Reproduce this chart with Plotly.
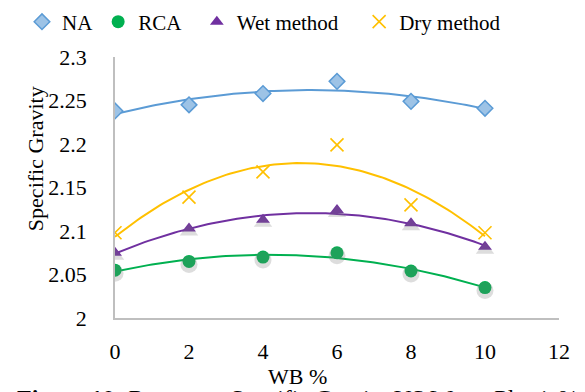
import numpy as np
import plotly.graph_objects as go

wb = [0, 2, 4, 6, 8, 10]
na = [2.238, 2.245, 2.258, 2.272, 2.249, 2.241]
rca = [2.055, 2.065, 2.070, 2.075, 2.054, 2.035]
wet = [2.075, 2.103, 2.113, 2.124, 2.109, 2.082]
dry = [2.098, 2.139, 2.168, 2.199, 2.130, 2.098]

x_ticks = [0, 2, 4, 6, 8, 10, 12]
y_ticks = [2, 2.05, 2.1, 2.15, 2.2, 2.25, 2.3]
y_ticktext = ["2", "2.05", "2.1", "2.15", "2.2", "2.25", "2.3"]

FONT = "Liberation Serif"
Y_RANGE = [2, 2.3]
PLOT_H = 261
SHADOW_PX = 3
shadow_shift = SHADOW_PX * (Y_RANGE[1] - Y_RANGE[0]) / PLOT_H

series = [
    ("NA", na, dict(symbol="diamond", size=12, color="#9DC3E6", line=dict(color="#5B9BD5", width=1.5)), "#5B9BD5", False),
    ("RCA", rca, dict(symbol="circle", size=13, color="#00B050", line=dict(width=0)), "#00B050", True),
    ("Wet method", wet, dict(symbol="triangle-up", size=12, color="#7030A0", line=dict(width=0)), "#7030A0", True),
    ("Dry method", dry, dict(symbol="x-thin", size=13, color="#FFC000", line=dict(color="#FFC000", width=1.6)), "#FFC000", False),
]
legend_names = {"NA": "NA", "RCA": "RCA\u00a0\u00a0", "Wet method": "Wet method\u00a0\u00a0\u00a0", "Dry method": "Dry method"}

fig = go.Figure()
# soft shadows drawn on an overlaid axis whose range is nudged so they sit a few pixels lower
for name, vals, mk, col, shadow in series:
    if shadow:
        fig.add_trace(go.Scatter(x=wb, y=vals, mode="markers", showlegend=False, hoverinfo="skip",
                                 yaxis="y2",
                                 marker=dict(symbol=mk["symbol"], size=mk["size"] + 4,
                                             color="rgba(120,120,120,0.25)", line=dict(width=0))))
xfit = np.linspace(min(wb), max(wb), 101)
for name, vals, mk, col, shadow in series:
    coef = np.polyfit(wb, vals, 2)
    fig.add_trace(go.Scatter(x=xfit, y=np.polyval(coef, xfit), mode="lines",
                             line=dict(color=col, width=2), showlegend=False, hoverinfo="skip"))
for name, vals, mk, col, shadow in series:
    fig.add_trace(go.Scatter(x=wb, y=vals, mode="markers", name=legend_names[name], marker=dict(mk)))

fig.update_layout(
    width=577, height=384,
    margin=dict(l=107, r=26, t=49, b=74, autoexpand=False),
    paper_bgcolor="white", plot_bgcolor="white",
    font=dict(family=FONT, size=22, color="black"),
    showlegend=True,
    legend=dict(orientation="h", x=-0.2095, xanchor="left", y=1.134, yanchor="middle",
                font=dict(family=FONT, size=21, color="black"), itemwidth=30,
                bgcolor="rgba(0,0,0,0)", borderwidth=0),
    xaxis=dict(range=[0, 12], tickmode="array", tickvals=x_ticks, ticktext=[str(v) for v in x_ticks],
               showgrid=False, zeroline=False, showline=True, linecolor="#BFBFBF", linewidth=1.5,
               ticks="", ticklabelstandoff=13, automargin=False,
               tickfont=dict(family=FONT, size=22, color="black")),
    yaxis=dict(range=Y_RANGE, tickmode="array", tickvals=y_ticks, ticktext=y_ticktext,
               showgrid=False, zeroline=False, showline=True, linecolor="#BFBFBF", linewidth=1.5,
               ticks="", ticklabelstandoff=22, automargin=False,
               tickfont=dict(family=FONT, size=22, color="black")),
    yaxis2=dict(range=[Y_RANGE[0] + shadow_shift, Y_RANGE[1] + shadow_shift], overlaying="y",
                visible=False, showgrid=False, zeroline=False),
    annotations=[
        dict(text="Specific Gravity", textangle=-90, xref="paper", yref="paper",
             x=-0.18, y=0.609, xanchor="center", yanchor="middle", showarrow=False,
             font=dict(family=FONT, size=22, color="black")),
        dict(text="WB %", xref="paper", yref="paper", x=0.41, y=-0.226,
             xanchor="center", yanchor="middle", showarrow=False,
             font=dict(family=FONT, size=22, color="black")),
        dict(text="<b>Figure 10:</b> Represent Specific Gravity VS Waste Plastic%", xref="paper", yref="paper",
             x=-0.225, y=-0.249, xanchor="left", yanchor="top", showarrow=False,
             font=dict(family=FONT, size=24, color="black")),
    ],
)

fig.write_html("out.html")
